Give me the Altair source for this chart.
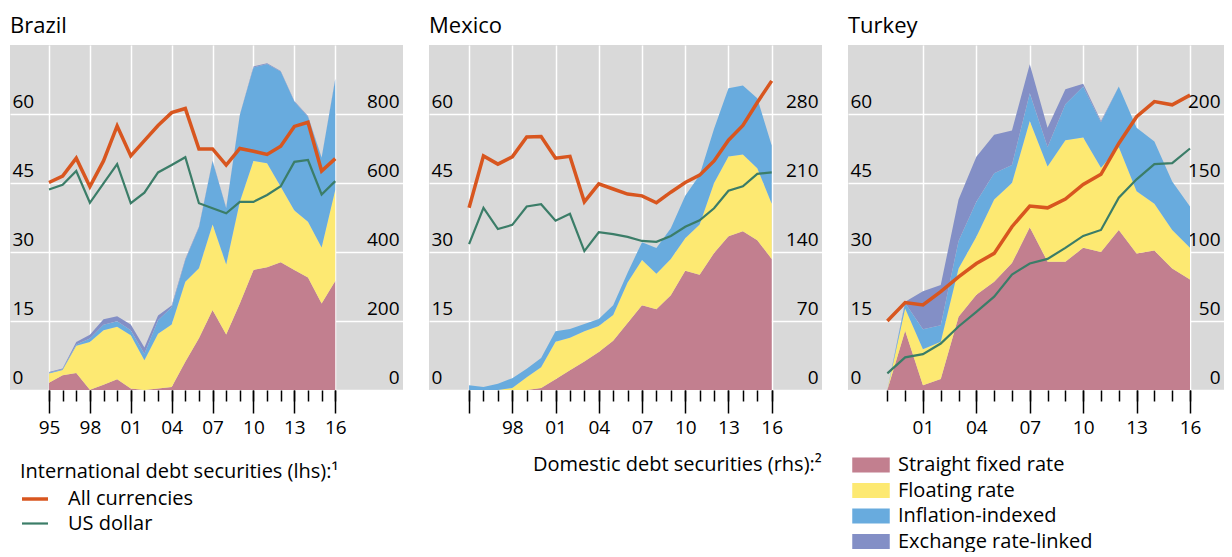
import altair as alt
import pandas as pd

FONT = "Open Sans"
GRAY = "#d9d9d9"

# ---------------- data ----------------
years_br = [1995, 1996, 1997, 1998, 1999, 2000, 2001, 2002, 2003, 2004, 2005,
            2006, 2007, 2008, 2009, 2010, 2011, 2012, 2013, 2014, 2015, 2016]
years_mx = [1995, 1996, 1997, 1998, 1999, 2000, 2001, 2002, 2003, 2004, 2005,
            2006, 2007, 2008, 2009, 2010, 2011, 2012, 2013, 2014, 2015, 2016]
years_tr = [1999, 2000, 2001, 2002, 2003, 2004, 2005, 2006, 2007, 2008,
            2009, 2010, 2011, 2012, 2013, 2014, 2015, 2016]

# International debt securities (lhs)
br_all = [45.1, 46.5, 50.4, 44.2, 49.8, 57.4, 50.9, 54.2, 57.5, 60.3, 61.2,
          52.4, 52.4, 48.9, 52.5, 51.9, 51.2, 53.0, 57.3, 58.2, 47.6, 50.3]
br_usd = [43.6, 44.6, 47.6, 40.7, 44.9, 49.1, 40.6, 42.9, 47.3, 48.9, 50.6,
          40.6, 39.5, 38.4, 40.9, 40.9, 42.4, 44.3, 49.6, 50.0, 42.5, 45.4]
mx_all = [39.6, 50.9, 49.1, 50.7, 55.0, 55.1, 50.4, 50.8, 40.9, 44.8, 43.7,
          42.6, 42.2, 40.7, 43.0, 45.1, 46.7, 49.8, 54.3, 57.5, 62.5, 67.2]
mx_usd = [31.7, 39.6, 35.0, 35.9, 39.9, 40.4, 36.8, 38.3, 30.2, 34.3, 33.9,
          33.3, 32.4, 32.2, 33.5, 35.5, 36.9, 39.5, 43.3, 44.3, 47.0, 47.3]
tr_all = [15.0, 19.0, 18.5, 21.4, 24.6, 27.5, 29.7, 35.5, 40.0, 39.6, 41.5,
          44.7, 46.9, 53.6, 59.4, 62.7, 62.0, 64.1]
tr_usd = [3.6, 7.1, 7.8, 10.1, 13.8, 17.0, 20.3, 25.1, 27.5, 28.5, 30.9,
          33.5, 34.8, 41.8, 45.8, 49.1, 49.3, 52.5]

# Domestic debt securities (rhs)
br_fixed = [21, 43, 49, 1, 15, 31, 4, 0, 4, 9, 82, 150, 232, 161, 251, 348,
            356, 370, 348, 326, 251, 316]
br_float = [27, 15, 79, 138, 158, 152, 155, 86, 159, 181, 232, 203, 248, 203,
            295, 316, 301, 219, 172, 162, 162, 264]
br_infl = [2, 2, 4, 10, 16, 16, 14, 19, 39, 50, 63, 118, 184, 163, 251, 271,
           288, 334, 316, 304, 260, 320]
br_fx = [2, 2, 7, 11, 16, 15, 17, 18, 14, 5, 3, 2, 1, 1, 1, 3, 2, 2, 2, 2, 1, 2]

mx_fixed = [0, 0, 0, 0, 0, 2, 11, 20, 29, 38.5, 50, 68, 86, 82, 96, 121, 117,
            139, 156, 161, 152, 133]
mx_float = [0, 0, 0, 2, 13, 21, 38, 33, 30.5, 26.5, 26, 41, 46, 36, 37, 33,
            51, 71, 81, 78, 73, 56]
mx_infl = [4.7, 3, 6.4, 10, 8.6, 9.5, 10.5, 9, 7.5, 7, 10, 10, 18, 26, 31, 43,
           50, 55, 69, 70, 71, 59]
mx_fx = [0, 0, 0, 0, 0, 0, 0, 0, 0, 0, 0, 0, 0, 0, 0, 0, 0, 0, 0, 0, 0, 0]

tr_fixed = [0, 43, 3.5, 8, 53, 69, 78.5, 92, 118, 93, 93, 103, 100, 116, 99,
            101, 88, 80]
tr_float = [0, 16, 26, 27, 35, 42, 59.5, 58, 77, 69, 88, 80, 61, 60, 45, 34,
            28, 23]
tr_infl = [0, 4, 14.5, 12, 20, 25.5, 19, 13, 20, 14, 26, 37, 33, 44, 46, 45,
           35, 30]
tr_fx = [0, 1, 27.5, 29, 30, 32.5, 28, 25, 21, 14, 11, 2, 1, 0, 0, 0, 0, 0]

# categories and tick values
line_names = ["All currencies", "US dollar"]
line_colors = ["#d8561f", "#3b7d68"]
area_names = ["Straight fixed rate", "Floating rate", "Inflation-indexed",
              "Exchange rate-linked"]
area_colors = ["#c27f8f", "#fde972", "#68abde", "#838fc6"]
lhs_ticks = [0, 15, 30, 45, 60]
br_rhs_ticks = [0, 200, 400, 600, 800]
mx_rhs_ticks = [0, 70, 140, 210, 280]
tr_rhs_ticks = [0, 50, 100, 150, 200]
br_major = [1995, 1998, 2001, 2004, 2007, 2010, 2013, 2016]
mx_major = [1995, 1998, 2001, 2004, 2007, 2010, 2013, 2016]
tr_major = [2001, 2004, 2007, 2010, 2013, 2016]

LFS = 20
AFS = 19

stroke_legend = alt.Legend(
    title="International debt securities (lhs):\u00b9",
    orient="none", legendX=10, legendY=417,
    titleFontSize=LFS, titleFontWeight="normal", titleColor="black",
    titleFont=FONT, titleLimit=800, titlePadding=2,
    labelFontSize=LFS, labelFont=FONT, labelColor="black", labelLimit=500,
    symbolType="stroke", symbolSize=676, symbolStrokeWidth=3,
    labelOffset=18, rowPadding=0,
)

fill_legend = alt.Legend(
    title="Domestic debt securities (rhs):\u00b2", titleOrient="left",
    titleAnchor="start", titleBaseline="top",
    orient="none", legendX=523, legendY=410,
    titleFontSize=LFS, titleFontWeight="normal", titleColor="black",
    titleFont=FONT, titleLimit=800, titlePadding=39,
    labelFontSize=LFS, labelFont=FONT, labelColor="black", labelLimit=500,
    symbolType="M-2.5,-1H2.5V1H-2.5Z", symbolSize=225, symbolStrokeWidth=0,
    labelOffset=17, rowPadding=5.5,
)


def panel(name, years, all_, usd, fixed, flt, infl, fx, rmax, rticks,
          xdom, majors, hide_first, width):
    adf = pd.DataFrame({
        "year": years * 4,
        "series": sum([[n] * len(years) for n in area_names], []),
        "k": sum([[i] * len(years) for i in range(4)], []),
        "value": fixed + flt + infl + fx,
    })
    ldf = pd.DataFrame({
        "year": years * 2,
        "series": sum([[n] * len(years) for n in line_names], []),
        "value": all_ + usd,
    })
    xscale = alt.Scale(domain=xdom, nice=False, zero=False)
    if hide_first:
        lab = "datum.value == %d ? '' : substring(toString(datum.value), 2, 4)" % majors[0]
    else:
        lab = "substring(toString(datum.value), 2, 4)"

    area = alt.Chart(adf).mark_area(interpolate="linear").encode(
        x=alt.X("year:Q", scale=xscale, axis=alt.Axis(
            orient="bottom", values=majors, labelExpr=lab, tickSize=23,
            tickWidth=1.5, tickColor="black", grid=True, gridColor="white",
            gridWidth=1.5, domain=False, labelPadding=5, labelFontSize=AFS,
            labelFlush=False, labelFont=FONT, labelColor="black", title=None,
            zindex=0)),
        y=alt.Y("value:Q", stack="zero",
                scale=alt.Scale(domain=[0, rmax], nice=False),
                axis=alt.Axis(orient="right", values=rticks, grid=False,
                              ticks=False, domain=False, labelAlign="right",
                              labelPadding=-4, labelBaseline="alphabetic",
                              labelOffset=-7, labelFontSize=AFS, labelFont=FONT,
                              labelColor="black", title=None, zindex=0)),
        fill=alt.Fill("series:N",
                      scale=alt.Scale(domain=area_names, range=area_colors),
                      legend=fill_legend),
        order=alt.Order("k:Q", sort="ascending"),
    )
    line = alt.Chart(ldf).mark_line(interpolate="linear").encode(
        x=alt.X("year:Q", scale=xscale, axis=alt.Axis(
            orient="bottom", values=years, labels=False, tickSize=11,
            tickWidth=1.5, tickColor="black", grid=False, domain=False,
            title=None, zindex=0)),
        y=alt.Y("value:Q", scale=alt.Scale(domain=[0, 75], nice=False),
                axis=alt.Axis(orient="left", values=lhs_ticks, grid=True,
                              gridColor="white", gridWidth=1.5, ticks=False,
                              domain=False, labelAlign="left", labelPadding=-2,
                              labelBaseline="alphabetic", labelOffset=-7,
                              labelFontSize=AFS, labelFont=FONT,
                              labelColor="black", title=None, zindex=0)),
        stroke=alt.Stroke("series:N",
                          scale=alt.Scale(domain=line_names, range=line_colors),
                          legend=stroke_legend),
        strokeWidth=alt.StrokeWidth("series:N",
                                    scale=alt.Scale(domain=line_names,
                                                    range=[3.5, 2.2]),
                                    legend=stroke_legend),
    )
    return alt.layer(area, line).resolve_scale(y="independent").resolve_axis(
        x="independent").properties(
        width=width, height=345,
        title=alt.Title(name, anchor="start", fontSize=22, fontWeight="normal",
                        font=FONT, color="black", offset=7))


brazil = panel("Brazil", years_br, br_all, br_usd, br_fixed, br_float, br_infl,
               br_fx, 1000, br_rhs_ticks, [1992.14, 2020.97], br_major, False,
               393)
mexico = panel("Mexico", years_mx, mx_all, mx_usd, mx_fixed, mx_float, mx_infl,
               mx_fx, 350, mx_rhs_ticks, [1992.22, 2019.49], mx_major, True,
               393)
turkey = panel("Turkey", years_tr, tr_all, tr_usd, tr_fixed, tr_float, tr_infl,
               tr_fx, 250, tr_rhs_ticks, [1996.79, 2017.91], tr_major, False,
               376)

chart = alt.hconcat(brazil, mexico, turkey, spacing=26).properties(
    padding={"left": 2, "top": 7, "right": 0, "bottom": 0}
).configure_view(fill=GRAY, strokeWidth=0)

chart.save("out.html", embed_options={"renderer": "svg", "actions": False})
